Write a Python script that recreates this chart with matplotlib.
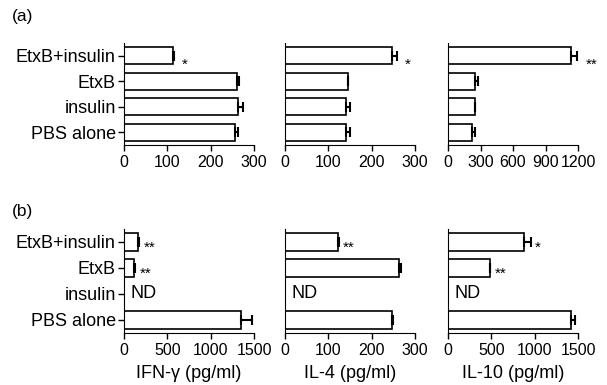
import numpy as np
import matplotlib.pyplot as plt

plt.rcParams['font.family'] = ['Liberation Sans', 'DejaVu Sans']

groups = ['EtxB+insulin', 'EtxB', 'insulin', 'PBS alone']

# panel (a)
a_ifn = [112, 260, 264, 255]
a_ifn_err = [3, 6, 11, 9]
a_il4 = [247, 145, 140, 140]
a_il4_err = [11, 1, 11, 11]
a_il10 = [1136, 251, 245, 220]
a_il10_err = [55, 27, 6, 27]
a_stars = [['*', '', '', ''], ['*', '', '', ''], ['**', '', '', '']]

# panel (b)
b_ifn = [165, 119, 0, 1350]
b_ifn_err = [12, 12, 0, 123]
b_il4 = [122, 262, 0, 248]
b_il4_err = [2, 5, 0, 2]
b_il10 = [879, 479, 0, 1420]
b_il10_err = [77, 8, 0, 42]
b_nd = [False, False, True, False]
b_stars = [['**', '**', '', ''], ['**', '', '', ''], ['*', '**', '', '']]

a_ticks = [[0, 100, 200, 300], [0, 100, 200, 300], [0, 300, 600, 900, 1200]]
b_ticks = [[0, 500, 1000, 1500], [0, 100, 200, 300], [0, 500, 1000, 1500]]
xlabels = ['IFN-\u03b3 (pg/ml)', 'IL-4 (pg/ml)', 'IL-10 (pg/ml)']

fig = plt.figure(figsize=(6.07, 3.85), dpi=100)

lefts = [124 / 607, 285 / 607, 448 / 607]
w = 130 / 607


def draw(ax, vals, errs, ticks, stars, star_off, nd=None, first=False):
    y = np.arange(len(groups))
    ax.barh(y, vals, height=0.67, color='white', edgecolor='black', linewidth=1.2)
    vals = np.array(vals, float)
    errs = np.array(errs, float)
    m = vals > 0
    ax.errorbar(vals[m], y[m], xerr=[np.zeros(m.sum()), errs[m]], fmt='none',
                ecolor='black', elinewidth=1.5, capsize=3.6, capthick=1.5)
    for i, s in enumerate(stars):
        if s:
            ax.annotate(s, xy=(vals[i] + errs[i], y[i]), xytext=star_off,
                        textcoords='offset points', ha='left', va='center',
                        fontsize=11)
    if nd is not None:
        for i, f in enumerate(nd):
            if f:
                ax.annotate('ND', xy=(0, y[i]), xytext=(5, 0),
                            textcoords='offset points', ha='left', va='center',
                            fontsize=13)
    ax.set_xlim(ticks[0], ticks[-1])
    ax.set_ylim(3.5, -0.5)
    ax.set_xticks(ticks)
    ax.spines['top'].set_visible(False)
    ax.spines['right'].set_visible(False)
    ax.tick_params(axis='x', length=4, width=1, labelsize=11.5, pad=3)
    if first:
        ax.set_yticks(y)
        ax.set_yticklabels(groups, fontsize=13)
        ax.tick_params(axis='y', length=4, width=1, pad=2)
    else:
        ax.set_yticks([])


a_data = [(a_ifn, a_ifn_err), (a_il4, a_il4_err), (a_il10, a_il10_err)]
b_data = [(b_ifn, b_ifn_err), (b_il4, b_il4_err), (b_il10, b_il10_err)]

for k in range(3):
    ax = fig.add_axes([lefts[k], 1 - 145 / 385, w, 102 / 385])
    draw(ax, a_data[k][0], a_data[k][1], a_ticks[k], a_stars[k], (6, -6.3),
         first=(k == 0))
    ax = fig.add_axes([lefts[k], 1 - 333 / 385, w, 104 / 385])
    draw(ax, b_data[k][0], b_data[k][1], b_ticks[k], b_stars[k], (3, -4.4),
         nd=b_nd, first=(k == 0))
    ax.set_xlabel(xlabels[k], fontsize=13, labelpad=5)

fig.text(12 / 607, 1 - 17 / 385, '(a)', fontsize=12.5, va='center')
fig.text(12 / 607, 1 - 212 / 385, '(b)', fontsize=12.5, va='center')

fig.savefig('out.png', dpi=100)
